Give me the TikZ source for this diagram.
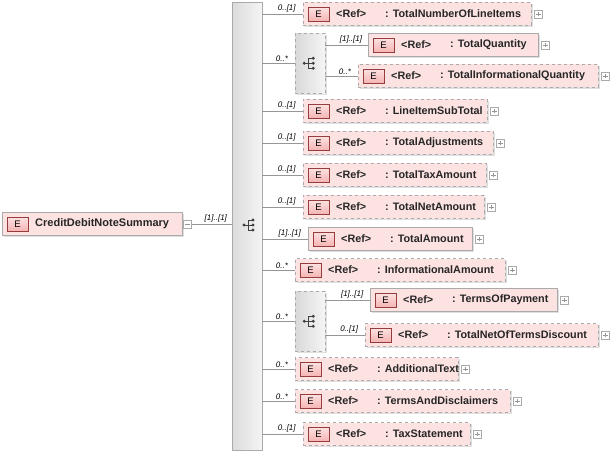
\documentclass[tikz,border=0pt]{standalone}
\usepackage{fontspec}
\setmainfont{Liberation Sans}
\usetikzlibrary{shadows}
\definecolor{pk}{RGB}{253,226,226}
\definecolor{pkd}{RGB}{245,180,180}
\definecolor{pkb}{RGB}{150,60,60}
\definecolor{gb}{RGB}{170,170,170}
\definecolor{ln}{RGB}{150,150,150}
\tikzset{
 elem/.style={draw=gb,fill=pk,rectangle,minimum height=23pt,inner sep=0pt,anchor=west,drop shadow={shadow xshift=1.5pt,shadow yshift=-1.5pt,opacity=0.25}},
 opt/.style={dashed},
 badge/.style={draw=pkb,top color=pk,bottom color=pkd,minimum width=21pt,minimum height=14pt,inner sep=0pt,font=\fontsize{9.5}{10}\selectfont},
 lbl/.style={font=\fontsize{8}{9}\selectfont\itshape,anchor=south,inner sep=1.5pt},
 conn/.style={draw=ln,line width=0.6pt},
 plus/.style={draw=gb,fill=white,minimum size=8pt,inner sep=0pt},
 txt/.style={font=\fontsize{10.8}{12}\selectfont\bfseries,anchor=west,inner sep=0pt,text=black!85},
}
\newcommand{\elemrow}[8]{
 \node[elem,#5,minimum width=#4pt] (#1) at (#2,#3) {};
 \node[badge] (#1b) at ([xshift=15.5pt]#1.west) {E};
 \node[txt] (#1r) at ([xshift=33pt]#1.west) {<Ref>};
 \node[txt] (#1t) at ([xshift=82pt]#1.west) {: #6};
 \node[plus] (#1p) at ([xshift=7pt]#1.east) {};
 \draw[ln,line width=0.4pt] ([xshift=-2.2pt]#1p.center)--([xshift=2.2pt]#1p.center) ([yshift=-2.2pt]#1p.center)--([yshift=2.2pt]#1p.center);
 \draw[conn] (#7 |- #1.west) -- node[lbl,pos=0.6]{#8} (#1.west);
}
\newcommand{\seqicon}[1]{
 \draw[black!75,line width=0.7pt] ([xshift=-6pt]#1)--([xshift=-2pt]#1) ([xshift=-2pt,yshift=-5pt]#1)--([xshift=-2pt,yshift=5pt]#1)
   ([xshift=-2pt,yshift=5pt]#1)--([xshift=3pt,yshift=5pt]#1) ([xshift=-2pt]#1)--([xshift=3pt]#1) ([xshift=-2pt,yshift=-5pt]#1)--([xshift=3pt,yshift=-5pt]#1);
 \fill[black!75] ([xshift=-6pt]#1) circle (1.6pt) ([xshift=3pt,yshift=5pt]#1) circle (1.6pt) ([xshift=3pt]#1) circle (1.6pt) ([xshift=3pt,yshift=-5pt]#1) circle (1.6pt);
}
\begin{document}
\begin{tikzpicture}[x=1pt,y=-1pt]
\useasboundingbox (0,0) rectangle (612,454);
\node[draw=gb,left color=black!14,right color=black!4,minimum width=30pt,minimum height=448pt,inner sep=0pt,anchor=north west] (seq) at (232,2) {};
\coordinate (sc) at (250,225);
\seqicon{sc}
\node[elem,minimum width=180pt] (root) at (2,224) {};
\node[badge] (rootb) at ([xshift=15.5pt]root.west) {E};
\node[txt,font=\fontsize{11}{12}\selectfont\bfseries] (roott) at ([xshift=33pt]root.west) {CreditDebitNoteSummary};
\node[plus] (rootp) at ([xshift=5pt]root.east) {};
\draw[ln,line width=0.4pt] ([xshift=-2.2pt]rootp.center)--([xshift=2.2pt]rootp.center);
\draw[conn] (rootp.east) -- node[lbl,pos=0.6]{[1]..[1]} (seq.west |- rootp.east);
\node[draw=gb,dashed,left color=black!15,right color=black!4,minimum width=30pt,minimum height=60pt,inner sep=0pt,anchor=north west,drop shadow={shadow xshift=1.5pt,shadow yshift=-1.5pt,opacity=0.25}] (ch1) at (295,33) {};
\seqicon{ch1.center}
\draw[conn] (seq.east |- ch1.west) -- node[lbl,pos=0.6]{0..*} (ch1.west);
\node[draw=gb,dashed,left color=black!15,right color=black!4,minimum width=30pt,minimum height=60pt,inner sep=0pt,anchor=north west,drop shadow={shadow xshift=1.5pt,shadow yshift=-1.5pt,opacity=0.25}] (ch2) at (295,291) {};
\seqicon{ch2.center}
\draw[conn] (seq.east |- ch2.west) -- node[lbl,pos=0.6]{0..*} (ch2.west);
\elemrow{a}{303}{14}{228}{opt}{TotalNumberOfLineItems}{seq.east}{0..[1]}
\elemrow{b}{368}{45}{170}{}{TotalQuantity}{ch1.east}{[1]..[1]}
\elemrow{c}{358}{76}{240}{opt}{TotalInformationalQuantity}{ch1.east}{0..*}
\elemrow{d}{303}{111}{184}{opt}{LineItemSubTotal}{seq.east}{0..[1]}
\elemrow{e}{303}{143}{190}{opt}{TotalAdjustments}{seq.east}{0..[1]}
\elemrow{f}{303}{175}{183}{opt}{TotalTaxAmount}{seq.east}{0..[1]}
\elemrow{g}{303}{207}{181}{opt}{TotalNetAmount}{seq.east}{0..[1]}
\elemrow{h}{308}{239}{164}{}{TotalAmount}{seq.east}{[1]..[1]}
\elemrow{i}{295}{270}{210}{opt}{InformationalAmount}{seq.east}{0..*}
\elemrow{j}{370}{300}{187}{}{TermsOfPayment}{ch2.east}{[1]..[1]}
\elemrow{k}{365}{335}{233}{opt}{TotalNetOfTermsDiscount}{ch2.east}{0..[1]}
\elemrow{l}{295}{369}{163}{opt}{AdditionalText}{seq.east}{0..*}
\elemrow{m}{295}{401}{215}{opt}{TermsAndDisclaimers}{seq.east}{0..*}
\elemrow{n}{303}{434}{167}{opt}{TaxStatement}{seq.east}{0..[1]}
\end{tikzpicture}
\end{document}
